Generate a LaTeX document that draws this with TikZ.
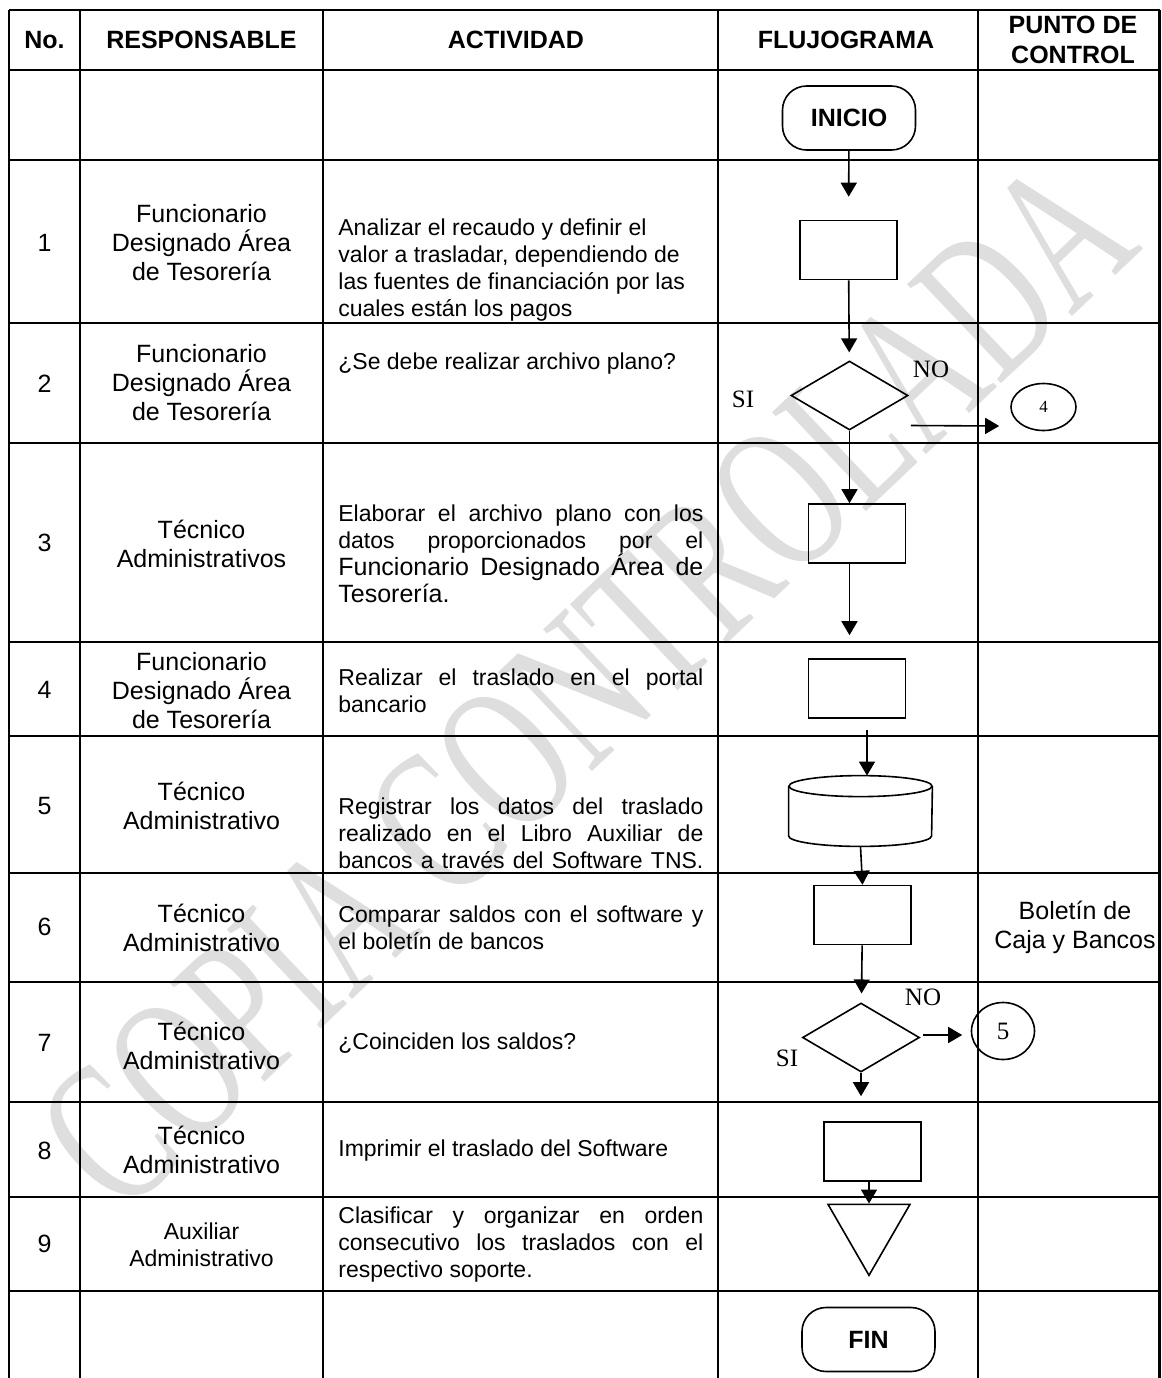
\documentclass[tikz,border=0pt]{standalone}
\usepackage{fontspec}
\setmainfont{Liberation Sans}
\newfontfamily\fser{Liberation Serif}
\usepackage{tikz}
\usetikzlibrary{shapes.geometric,arrows.meta}
\newcommand{\fhead}{\fontsize{12.5}{15}\selectfont\bfseries}
\newcommand{\fresp}{\fontsize{12.5}{14.5}\selectfont}
\newcommand{\fact}{\fontsize{11.5}{13.5}\selectfont}
\newcommand{\fbig}{\fontsize{12.5}{14.5}\selectfont}
\newlength{\acw}
\setlength{\acw}{182.5pt}
\newcommand{\jline}[1]{\makebox[\acw][s]{#1}}

\begin{document}
\begin{tikzpicture}[x=0.5pt,y=-0.5pt,
		grid/.style={line width=1.1pt},
		shp/.style={draw,line width=0.8pt,inner sep=0pt},
		proc/.style={shp,rectangle,minimum width=48.5pt,minimum height=29.5pt},
		term/.style={shp,rounded corners=12pt,minimum width=66.5pt,minimum height=32pt,font=\fhead},
		decis/.style={shp,diamond,minimum width=58.5pt,minimum height=34.5pt},
		conn/.style={shp,ellipse},
		tri/.style={shp,regular polygon,regular polygon sides=3,shape border rotate=180,minimum size=47.3pt},
		arr/.style={line width=0.8pt,-{Triangle[length=7pt,width=8pt]}},
		lbl/.style={font=\fser\fontsize{12.5}{14}\selectfont},
		head/.style={align=center,font=\fhead},
		resp/.style={align=center,font=\fresp},
		act/.style={anchor=west,align=left,inner sep=0pt,font=\fact},
		num/.style={font=\fresp},
		water/.style={text=black!13,inner sep=0pt,font=\fser\fontsize{69.5}{70}\selectfont}]
				\useasboundingbox (0,0) rectangle (1162,1378);

				\node[water,rotate=43.5,yscale=1.5] (wm) at (586,684) {COPIA CONTROLADA};

				\foreach \x in {9,80,323,718,978,1159.5}{%
						\draw[grid] (\x,10) -- (\x,1378);
					}
				\foreach \y in {10,70,160,323,443,642,736,873,982,1102,1197,1291}{%
						\draw[grid] (9,\y) -- (1159.5,\y);
					}

				\node[head] (hno) at (44.5,40) {No.};
				\node[head] (hresp) at (201.5,40) {RESPONSABLE};
				\node[head] (hact) at (516,40) {ACTIVIDAD};
				\node[head] (hflu) at (846,40) {FLUJOGRAMA};
				\node[head] (hpc) at (1073,40) {PUNTO DE\\CONTROL};

				\foreach \n/\y in {1/243,2/384,3/543,4/690,5/806,6/927,7/1043,8/1151,9/1244}{%
						\node[num] (n\n) at (44.5,\y) {\n};
					}

				\node[resp] (p1) at (201.5,242.5) {Funcionario\\Designado Área\\de Tesorería};
				\node[resp] (p2) at (201.5,383) {Funcionario\\Designado Área\\de Tesorería};
				\node[resp] (p3) at (201.5,543.5) {Técnico\\Administrativos};
				\node[resp] (p4) at (201.5,690.5) {Funcionario\\Designado Área\\de Tesorería};
				\node[resp] (p5) at (201.5,805.5) {Técnico\\Administrativo};
				\node[resp] (p6) at (201.5,927.5) {Técnico\\Administrativo};
				\node[resp] (p7) at (201.5,1045.5) {Técnico\\Administrativo};
				\node[resp] (p8) at (201.5,1150) {Técnico\\Administrativo};
				\node[resp,font=\fact] (p9) at (201.5,1244.5) {Auxiliar\\Administrativo};

				\node[act] (a1) at (338,270) {Analizar el recaudo y definir el\\valor a trasladar, dependiendo de\\las fuentes de financiación por las\\cuales están los pagos};
				\node[act] (a2) at (338,364) {¿Se debe realizar archivo plano?};
				\node[act] (a3) at (338,554) {\jline{Elaborar el archivo plano con los}\\\jline{datos proporcionados por el}\\{\fbig\jline{Funcionario Designado Área de}}\\{\fbig Tesorería.}};
				\node[act] (a4) at (338,690.5) {\jline{Realizar el traslado en el portal}\\bancario};
				\node[act] (a5) at (338,833) {\jline{Registrar los datos del traslado}\\\jline{realizado en el Libro Auxiliar de}\\\jline{bancos a través del Software TNS.}};
				\node[act] (a6) at (338,927.5) {\jline{Comparar saldos con el software y}\\el boletín de bancos};
				\node[act] (a7) at (338,1043) {¿Coinciden los saldos?};
				\node[act] (a8) at (338,1151) {Imprimir el traslado del Software};
				\node[act] (a9) at (338,1245) {\jline{Clasificar y organizar en orden}\\\jline{consecutivo los traslados con el}\\respectivo soporte.};

				\node[resp] (pc6) at (1075,927.5) {Boletín de\\Caja y Bancos};

				\node[term] (ini) at (849,118) {INICIO};
				\node[proc] (r1) at (848.5,250) {};
				\node[decis] (d1) at (849.5,395.5) {};
				\node[conn,minimum width=32.5pt,minimum height=23.5pt,font=\fser\fontsize{8.5}{10}\selectfont] (c4) at (1043.5,407) {4};
				\node[proc] (r2) at (857,533.5) {};
				\node[proc] (r3) at (857,688.5) {};
				\node[minimum width=71.5pt,minimum height=35pt,inner sep=0pt] (cyl) at (860.5,811) {};
				\node[proc] (r4) at (862.5,915) {};
				\node[decis] (d2) at (861,1037.5) {};
				\node[conn,minimum width=31.5pt,minimum height=28.5pt,font=\fser\fontsize{12.5}{14}\selectfont] (c5) at (1003,1031) {5};
				\node[proc] (r5) at (872.5,1151.5) {};
				\node[tri] (t9) at (869,1228) {};
				\node[term] (fin) at (868.5,1339.5) {FIN};

				\draw[shp] ([shift={(0,10.5)}]cyl.north) ellipse[x radius=35.75pt,y radius=5.25pt];
				\draw[shp] ([shift={(0,10.5)}]cyl.north west) -- ([shift={(0,-10.5)}]cyl.south west)
					arc[start angle=180,end angle=360,x radius=35.75pt,y radius=5.25pt]
					-- ([shift={(0,10.5)}]cyl.north east);

				\node[lbl] (no1) at (931,369) {NO};
				\node[lbl] (si1) at (743,399) {SI};
				\node[lbl] (no2) at (923,997) {NO};
				\node[lbl] (si2) at (787,1058) {SI};

				\draw[arr,shorten >=11.5pt] (ini) -- (r1);
				\draw[arr,shorten >=4pt] (r1) -- (d1);
				\draw[arr] (d1.south) -- (d1.south |- r2.north);
				\draw[arr,shorten >=11.5pt] (r2.south -| d1.south) -- (r3.north -| d1.south);
				\draw[arr] ([shift={(10,11)}]r3.south) -- ([shift={(6.5,0)}]cyl.north);
				\draw[arr] (cyl.south) -- (r4.north);
				\draw[arr,shorten >=4.5pt] (r4) -- (d2);
				\draw[arr,shorten >=12.5pt] (d2.south) -- (d2.south |- r5.north);
				\draw[arr] (t9.north |- r5.south) -- (t9.north);
				\draw[arr] ([shift={(2,30)}]d1.east) -- ([shift={(-11,19)}]c4.west);
				\draw[arr] ([shift={(3,-2.5)}]d2.east) -- ([shift={(-8.5,4)}]c5.west);
\end{tikzpicture}
\end{document}
